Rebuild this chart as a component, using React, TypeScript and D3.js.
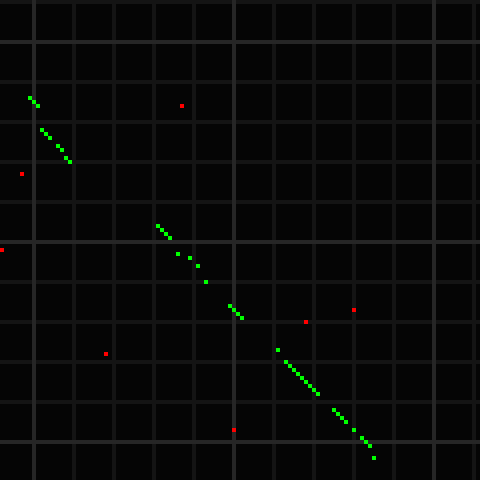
import { useEffect, useRef } from "react";
import * as d3 from "d3";

// cells on a 120 x 120 board, [column, row]
const liveCells: [number, number][] = [
    [7, 24], [8, 25], [9, 26],
    [10, 32], [11, 33], [12, 34],
    [14, 36], [15, 37],
    [16, 39], [17, 40],
    [39, 56], [40, 57], [41, 58], [42, 59],
    [44, 63], [47, 64], [49, 66], [51, 70],
    [57, 76], [58, 77], [59, 78], [60, 79],
    [69, 87],
    [71, 90], [72, 91], [73, 92], [74, 93], [75, 94], [76, 95], [77, 96], [78, 97], [79, 98],
    [83, 102], [84, 103], [85, 104], [86, 105],
    [88, 107],
    [90, 109], [91, 110], [92, 111],
    [93, 114],
];
const markedCells: [number, number][] = [
    [45, 26], [5, 43], [0, 62], [88, 77], [76, 80], [26, 88], [58, 107],
];
const gridCols = d3.range(8, 120, 10);
const gridRows = d3.range(0, 120, 10);
const majorCols = [8, 58, 108];
const majorRows = [10, 60, 110];

export default function App({ width = 480, height = 480, cells = 120 }) {
    const ref = useRef(null);

    useEffect(() => {
        if (!ref.current) return;
        const svg = d3.select(ref.current);
        svg.selectAll("*").remove();

        const x = d3.scaleLinear().domain([0, cells]).range([0, width]);
        const y = d3.scaleLinear().domain([0, cells]).range([0, height]);

        svg.append("rect")
            .attr("width", width)
            .attr("height", height)
            .attr("fill", "#050505");

        // minor grid first, majors on top
        const grid = svg.append("g");
        grid.selectAll("rect.col")
            .data(gridCols.filter(c => !majorCols.includes(c)))
            .enter().append("rect")
            .attr("x", d => x(d)).attr("y", 0)
            .attr("width", x(1)).attr("height", height)
            .attr("fill", "#141414");
        grid.selectAll("rect.row")
            .data(gridRows.filter(r => !majorRows.includes(r)))
            .enter().append("rect")
            .attr("x", 0).attr("y", d => y(d))
            .attr("width", width).attr("height", y(1))
            .attr("fill", "#141414");
        grid.selectAll("rect.mcol")
            .data(majorCols)
            .enter().append("rect")
            .attr("x", d => x(d)).attr("y", 0)
            .attr("width", x(1)).attr("height", height)
            .attr("fill", "#262626");
        grid.selectAll("rect.mrow")
            .data(majorRows)
            .enter().append("rect")
            .attr("x", 0).attr("y", d => y(d))
            .attr("width", width).attr("height", y(1))
            .attr("fill", "#262626");

        svg.append("g").selectAll("rect")
            .data(liveCells)
            .enter().append("rect")
            .attr("x", d => x(d[0])).attr("y", d => y(d[1]))
            .attr("width", x(1)).attr("height", y(1))
            .attr("fill", "#00ff00");

        svg.append("g").selectAll("rect")
            .data(markedCells)
            .enter().append("rect")
            .attr("x", d => x(d[0])).attr("y", d => y(d[1]))
            .attr("width", x(1)).attr("height", y(1))
            .attr("fill", "#ff0000");
    }, []);

    return (
        <svg
            ref={ref}
            width={width}
            height={height}
            shapeRendering="crispEdges"
            style={{ position: "fixed", left: 0, top: 0, display: "block" }} />
    );
}
